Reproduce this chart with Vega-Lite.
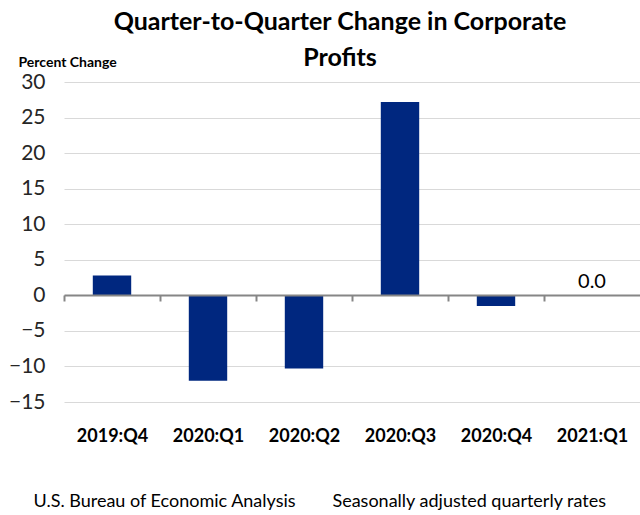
{
  "$schema": "https://vega.github.io/schema/vega-lite/v6.json",
  "width": 576,
  "height": 320,
  "autosize": "none",
  "padding": {"left": 64, "top": 82, "right": 0, "bottom": 113},
  "background": "white",
  "config": {"view": {"stroke": null}, "font": "Lato"},
  "title": {
    "text": ["Quarter-to-Quarter Change in Corporate", "Profits"],
    "font": "Lato",
    "fontSize": 25,
    "fontWeight": "bold",
    "color": "#000000",
    "anchor": "middle",
    "dx": -12,
    "offset": -16,
    "lineHeight": 36,
    "frame": "group"
  },
  "data": {
    "values": [
      {"q": "2019:Q4", "v": 2.8},
      {"q": "2020:Q1", "v": -12.0},
      {"q": "2020:Q2", "v": -10.3},
      {"q": "2020:Q3", "v": 27.2},
      {"q": "2020:Q4", "v": -1.5},
      {"q": "2021:Q1", "v": 0.0}
    ]
  },
  "encoding": {
    "x": {
      "field": "q",
      "type": "nominal",
      "sort": null,
      "scale": {"paddingInner": 0.6, "paddingOuter": 0.3},
      "axis": {
        "orient": "bottom",
        "offset": -107,
        "zindex": 1,
        "domain": true,
        "domainColor": "#868686",
        "domainWidth": 2,
        "ticks": true,
        "tickOffset": -48,
        "labelOffset": 48,
        "tickColor": "#868686",
        "tickWidth": 2,
        "tickSize": 6,
        "labelAngle": 0,
        "labelPadding": 126,
        "labelFontSize": 18,
        "labelFontWeight": "bold",
        "labelColor": "#000000",
        "labelFont": "Lato",
        "labelOverlap": false,
        "title": "U.S. Bureau of Economic Analysis\u00a0\u00a0\u00a0\u00a0\u00a0\u00a0\u00a0\u00a0Seasonally adjusted quarterly rates",
        "titleFont": "Lato",
        "titleFontSize": 18,
        "titleFontWeight": "normal",
        "titleColor": "#000000",
        "titleAnchor": "start",
        "titleAlign": "left",
        "titleBaseline": "middle",
        "titleX": -31,
        "titleY": 206
      }
    },
    "y": {
      "field": "v",
      "type": "quantitative",
      "scale": {"domain": [-15, 30], "nice": false, "zero": false},
      "axis": {
        "values": [-15, -10, -5, 0, 5, 10, 15, 20, 25, 30],
        "tickCount": 10,
        "labelOverlap": false,
        "grid": true,
        "gridColor": "#d9d9d9",
        "gridWidth": 1,
        "domain": false,
        "ticks": false,
        "labelFontSize": 21,
        "labelColor": "#262626",
        "labelFont": "Lato",
        "labelPadding": 19,
        "title": "Percent Change",
        "titleAngle": 0,
        "titleFont": "Lato",
        "titleFontSize": 14,
        "titleFontWeight": "bold",
        "titleColor": "#000000",
        "titleAlign": "left",
        "titleBaseline": "middle",
        "titleX": -46,
        "titleY": -20
      }
    }
  },
  "layer": [
    {
      "mark": {"type": "bar", "color": "#00277f"}
    },
    {
      "transform": [{"filter": "datum.q === '2021:Q1'"}],
      "mark": {"type": "text", "dy": -13, "fontSize": 20, "color": "#000000", "font": "Lato", "baseline": "middle"},
      "encoding": {
        "text": {"field": "v", "type": "quantitative", "format": ".1f"}
      }
    }
  ]
}
